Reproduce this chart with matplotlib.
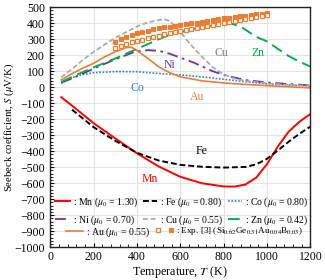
import matplotlib
matplotlib.use("Agg")
import matplotlib.pyplot as plt
from matplotlib.ticker import MultipleLocator
from matplotlib.legend_handler import HandlerTuple

plt.rcParams['font.family'] = ['Liberation Serif', 'DejaVu Serif']
plt.rcParams['mathtext.fontset'] = 'stix'

# ---------------- data ----------------
T_mn = [50, 100, 200, 300, 400, 500, 600, 700, 800, 850, 900, 950, 1000, 1050, 1100, 1150, 1200]
S_mn = [-62, -115, -225, -320, -413, -495, -560, -600, -620, -621, -608, -565, -480, -370, -277, -215, -167]

T_fe = [100, 200, 300, 400, 500, 600, 700, 800, 900, 950, 1000, 1050, 1100, 1150, 1200]
S_fe = [-140, -250, -335, -410, -458, -485, -497, -502, -498, -482, -447, -395, -340, -290, -246]

T_co = [50, 100, 150, 200, 300, 400, 500, 600, 700, 800, 900, 1000, 1100, 1200]
S_co = [25, 60, 80, 91, 98, 97, 86, 77, 65, 50, 35, 22, 14, 8]

T_ni = [50, 100, 200, 300, 390, 450, 500, 550, 600, 660, 750, 800, 900, 1000, 1100, 1200]
S_ni = [29, 55, 117, 175, 222, 232, 228, 210, 185, 155, 100, 77, 45, 30, 20, 12]

T_cu = [50, 100, 150, 200, 300, 400, 450, 500, 525, 550, 600, 650, 700, 750, 800, 850, 900, 1000, 1100, 1200]
S_cu = [62, 115, 170, 222, 310, 380, 405, 420, 425, 415, 345, 262, 190, 125, 80, 55, 40, 25, 15, 10]

T_zn = [50, 100, 200, 300, 400, 450, 500, 550, 600, 650, 700, 750, 800, 840, 880, 950, 1000, 1050, 1100, 1150, 1200]
S_zn = [33, 65, 125, 180, 240, 270, 300, 327, 345, 360, 375, 387, 396, 396, 378, 315, 287, 240, 195, 160, 129]

T_au = [50, 100, 150, 200, 250, 300, 350, 375, 400, 450, 500, 550, 600, 700, 800, 900, 1000, 1100, 1200]
S_au = [46, 85, 120, 150, 190, 222, 248, 250, 230, 180, 128, 92, 65, 40, 27, 18, 10, 3, -4]

T_exp = [300, 325, 350, 375, 400, 425, 450, 475, 500, 525, 550, 575, 600, 625, 650, 675, 700,
         725, 750, 775, 800, 825, 850, 875, 900, 925, 950, 975, 1000]
S_exp_fill = [285, 300, 315, 327, 338, 346, 354, 362, 369, 374, 378, 384, 389, 394, 399, 404, 408,
              414, 419, 425, 430, 434, 439, 443, 448, 452, 456, 460, 465]
S_exp_open = [245, 259, 272, 282, 290, 298, 306, 315, 322, 330, 337, 343, 350, 357, 363, 369, 375,
              382, 389, 395, 400, 407, 414, 421, 428, 434, 440, 445, 450]

legend_labels = [r": Mn ($\mu_0$ = 1.30)", r": Fe ($\mu_0$ = 0.80)", r": Co ($\mu_0$ = 0.80)",
                 r": Ni ($\mu_0$ = 0.70)", r": Cu ($\mu_0$ = 0.55)", r": Zn ($\mu_0$ = 0.42)",
                 r": Au ($\mu_0$ = 0.55)",
                 r": Exp. [3] (Si$_{0.62}$Ge$_{0.31}$Au$_{0.04}$B$_{0.03}$)"]

# ---------------- styling ----------------
c_mn, c_fe, c_co, c_ni = '#ff0000', '#000000', '#2f7fd8', '#7030a0'
c_cu, c_zn, c_au = '#a6a6a6', '#00b050', '#ed7d31'

fig = plt.figure(figsize=(3.25, 2.8), dpi=100)
ax = fig.add_axes([0.155, 0.117, 0.80, 0.857])

l_mn, = ax.plot(T_mn, S_mn, color=c_mn, lw=1.4, ls='-')
l_fe, = ax.plot(T_fe, S_fe, color=c_fe, lw=1.4, ls=(0, (3, 1.5)))
l_co, = ax.plot(T_co, S_co, color=c_co, lw=1.2, ls=(0, (1, 1)))
l_ni, = ax.plot(T_ni, S_ni, color=c_ni, lw=1.3, ls=(0, (6, 2.5, 1.5, 2.5)))
l_cu, = ax.plot(T_cu, S_cu, color=c_cu, lw=1.2, ls=(0, (3, 1.5)))
l_zn, = ax.plot(T_zn, S_zn, color=c_zn, lw=1.4, ls=(0, (6, 3)))
l_au, = ax.plot(T_au, S_au, color=c_au, lw=1.2, ls='-')
p_fill, = ax.plot(T_exp, S_exp_fill, ls='none', marker='s', ms=3.4, mfc=c_au, mec=c_au, mew=0.8)
p_open, = ax.plot(T_exp, S_exp_open, ls='none', marker='s', ms=3.4, mfc='white', mec=c_au, mew=0.9)

ax.set_xlim(0, 1200)
ax.set_ylim(-1000, 500)
ax.xaxis.set_major_locator(MultipleLocator(200))
ax.xaxis.set_minor_locator(MultipleLocator(40))
ax.yaxis.set_major_locator(MultipleLocator(100))
ax.yaxis.set_minor_locator(MultipleLocator(20))
ax.tick_params(which='both', direction='in', labelsize=8.5)
ax.tick_params(axis='y', pad=4)
ax.tick_params(axis='x', pad=3)
ax.tick_params(which='major', length=3)
ax.tick_params(which='minor', length=2)
ax.grid(True, which='major', color='#e3e3e3', lw=0.8)
ax.set_axisbelow(True)
for s in ax.spines.values():
    s.set_linewidth(1.0)
    s.set_color('#222222')

ax.set_xlabel(r"Temperature, $T$ (K)", fontsize=8.7, labelpad=0.5)
ax.set_ylabel(r"Seebeck coefficient, $S$ ($\mu$V/K)", fontsize=7.7)
ax.yaxis.set_label_coords(-0.133, 0.5)

# curve labels
lab_fs = 8.5
ax.text(400, -5, "Co", color=c_co, fontsize=lab_fs, ha='center', va='center')
ax.text(552, 139, "Ni", color=c_ni, fontsize=lab_fs, ha='center', va='center')
ax.text(790, 212, "Cu", color='#7f7f7f', fontsize=lab_fs, ha='center', va='center')
ax.text(960, 216, "Zn", color=c_zn, fontsize=lab_fs, ha='center', va='center')
ax.text(675, -62, "Au", color=c_au, fontsize=lab_fs, ha='center', va='center')
ax.text(700, -400, "Fe", color='black', fontsize=lab_fs, ha='center', va='center')
ax.text(460, -572, "Mn", color=c_mn, fontsize=lab_fs, ha='center', va='center')

# legend rows 1-2
h1 = [l_mn, l_ni, l_fe, l_cu, l_co, l_zn]
lb1 = [legend_labels[0], legend_labels[3], legend_labels[1], legend_labels[4], legend_labels[2], legend_labels[5]]
leg1 = ax.legend(h1, lb1, ncol=3, loc='upper left', bbox_to_anchor=(0.018, 0.215),
                 frameon=False, fontsize=7, handlelength=1.5, handletextpad=0.3,
                 columnspacing=0.45, labelspacing=0.4, borderpad=0, borderaxespad=0)
ax.add_artist(leg1)
# row 3: Au
leg2 = ax.legend([l_au], [legend_labels[6]], loc='upper left', bbox_to_anchor=(0.06, 0.092),
                 frameon=False, fontsize=7, handlelength=1.8, handletextpad=0.3,
                 borderpad=0, borderaxespad=0)
ax.add_artist(leg2)
# row 3: experiment
leg3 = ax.legend([(p_open, p_fill)], [legend_labels[7]], loc='upper left',
                 bbox_to_anchor=(0.405, 0.092), frameon=False, fontsize=6.6,
                 handlelength=1.9, handletextpad=0.3, borderpad=0, borderaxespad=0,
                 handler_map={tuple: HandlerTuple(ndivide=None, pad=0.9)})

fig.savefig("out.png", dpi=100)
